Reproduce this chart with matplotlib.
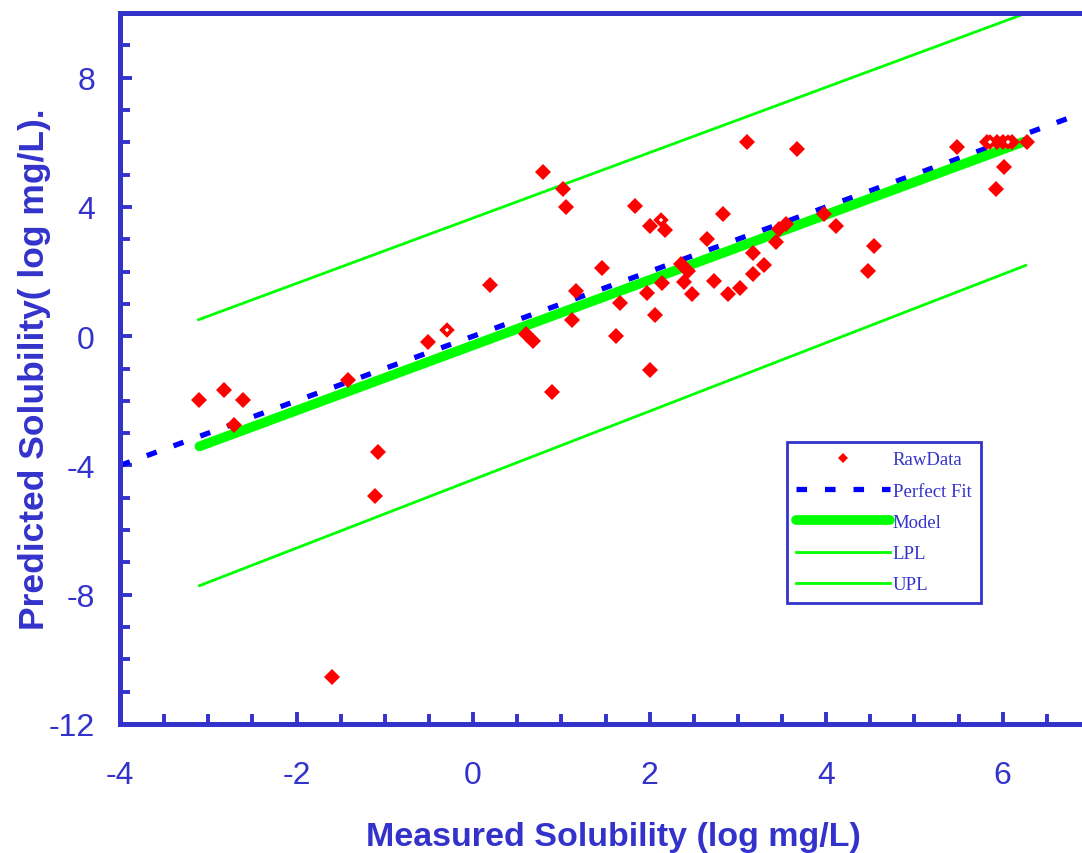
import numpy as np
import matplotlib
matplotlib.use('Agg')
from matplotlib import pyplot as plt
from matplotlib.ticker import MultipleLocator, FixedLocator

plt.rcParams['axes.unicode_minus'] = False
plt.rcParams['font.family'] = ['Liberation Sans', 'DejaVu Sans']

AXC = '#3333CC'

# measured vs predicted solubility (log mg/L)
measured = [-3.10, -2.82, -2.61, -2.71, -1.42, -1.08, -1.11, -1.60, -0.51,
            0.19, 0.60, 0.68, 0.79, 1.02, 1.05, 0.89, 1.17, 1.12, 1.46,
            1.66, 1.62, 1.83, 2.00, 2.17, 1.97, 2.14, 2.06, 2.00, 2.36,
            2.43, 2.39, 2.48, 2.65, 2.73, 2.83, 2.89, 3.02, 3.10, 3.17,
            3.17, 3.30, 3.43, 3.46, 3.55, 3.67, 3.97, 4.11, 4.47, 4.54,
            5.48, 5.82, 5.93, 6.00, 6.11, 6.27, 6.02, 5.92]
predicted = [-1.96, -1.65, -1.96, -2.74, -1.35, -3.58, -4.96, -10.55, -0.18,
             1.57, 0.07, -0.16, 5.08, 4.56, 4.01, -1.73, 1.41, 0.49, 2.11,
             1.03, 0.02, 4.02, 3.40, 3.29, 1.34, 1.64, 0.64, -1.04, 2.24,
             2.03, 1.67, 1.31, 3.02, 1.72, 3.79, 1.31, 1.49, 6.01, 2.57,
             1.93, 2.19, 2.91, 3.33, 3.48, 5.78, 3.79, 3.40, 2.02, 2.79,
             5.85, 6.01, 6.01, 6.01, 6.01, 6.01, 5.24, 4.56]
# points drawn with an open marker
measured_open = [-0.29, 2.13, 5.86, 6.06]
predicted_open = [0.18, 3.60, 6.01, 6.01]

fit_x = [-4.0, 7.0]
fit_y = [-4.0, 7.0]
model_x = [-3.10, 6.24]
model_y = [-3.41, 6.02]
lpl_x = [-3.10, 6.26]
lpl_y = [-7.72, 2.19]
upl_x = [-3.11, 6.26]
upl_y = [0.51, 9.99]

W, H = 1082, 854
fig = plt.figure(figsize=(W / 100, H / 100), dpi=100)
ax = fig.add_axes([120 / W, 1 - 725 / H, (1091 - 120) / W, (725 - 14) / H])

ax.plot(fit_x, fit_y, color='#0000FF', lw=3.8, dashes=(2.0, 3.4),
        label='Perfect Fit', zorder=2)
ax.plot(model_x, model_y, color='#00FF00', lw=7, solid_capstyle='round',
        label='Model', zorder=2)
ax.plot(lpl_x, lpl_y, color='#00FF00', lw=2, label='LPL', zorder=2)
ax.plot(upl_x, upl_y, color='#00FF00', lw=2, label='UPL', zorder=2)
raw, = ax.plot(measured, predicted, ls='none', marker='D', ms=8.4, mew=0,
               color='#FF0000', label='RawData', zorder=3)
ax.plot(measured_open, predicted_open, ls='none', marker='D', ms=5.4, mew=2.8,
        mfc='white', mec='#FF0000', zorder=4)

ax.set_xlim(-4, 7)
ax.set_ylim(-12, 10)
ax.xaxis.set_major_locator(MultipleLocator(2))
ax.xaxis.set_minor_locator(MultipleLocator(0.5))
ax.yaxis.set_major_locator(FixedLocator([-12, -8, -4, 0, 4, 8]))
ax.yaxis.set_minor_locator(MultipleLocator(1))

for s in ['left', 'bottom', 'top']:
    ax.spines[s].set_color(AXC)
    ax.spines[s].set_linewidth(3.6)
ax.spines['right'].set_visible(False)

ax.tick_params(which='both', direction='in', color=AXC, width=2.8,
               labelcolor=AXC, labelsize=23)
ax.tick_params(which='major', length=8.5)
ax.tick_params(which='minor', length=7)
ax.tick_params(axis='y', pad=18)
ax.tick_params(axis='x', pad=26)

fig.text(613 / W, 1 - 846.5 / H, 'Measured Solubility (log mg/L)',
         ha='center', va='baseline', fontsize=24.5, fontweight='bold', color=AXC)
fig.text(44 / W, 1 - 369 / H, 'Predicted Solubility( log mg/L).',
         ha='center', va='baseline', rotation=90, rotation_mode='anchor',
         fontsize=25.5, fontweight='bold', color=AXC)

handles, labels = ax.get_legend_handles_labels()
order = [labels.index(k) for k in ['RawData', 'Perfect Fit', 'Model', 'LPL', 'UPL']]
leg = ax.legend([handles[i] for i in order], [labels[i] for i in order],
                loc='upper left', bbox_to_anchor=(787 / W, 1 - 443 / H),
                bbox_transform=fig.transFigure, borderaxespad=0,
                prop={'family': 'Liberation Serif', 'size': 13.5},
                handlelength=5.0, handletextpad=0.15, borderpad=0.5,
                labelspacing=0.75, markerscale=0.6, numpoints=1,
                fancybox=False, framealpha=1)
leg.get_frame().set_edgecolor(AXC)
leg.get_frame().set_linewidth(2)
for t in leg.get_texts():
    t.set_color(AXC)

plt.savefig('out.png', dpi=100)
